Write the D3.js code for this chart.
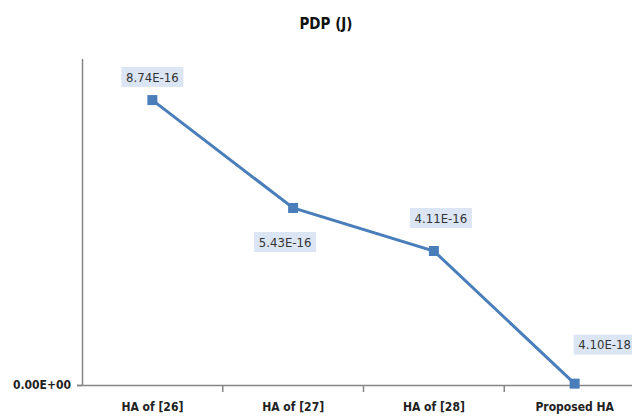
<!DOCTYPE html>
<html lang="en">
<head>
<meta charset="UTF-8">
<title>PDP (J)</title>
<script src="https://cdn.jsdelivr.net/npm/d3@7"></script>
<style>
    body{ margin:0; background:#fff; }
    .axis path, .axis line{ stroke:#868686; stroke-width:1.5px; }
    .axis text{ font-family:"Liberation Sans Narrow","DejaVu Sans Condensed",sans-serif; font-weight:bold; font-size:12px; fill:#222; }
    .title{ font-family:"Liberation Sans Narrow","DejaVu Sans Condensed",sans-serif; font-weight:bold; font-size:15px; fill:#111; }
    .lbl{ font-family:"Liberation Sans Narrow","DejaVu Sans Condensed",sans-serif; font-size:13px; fill:#333; }
    .lblbox{ fill:#dbe5f3; }
    .line{ fill:none; stroke:#4a7ebb; stroke-width:3px; }
    .marker{ fill:#4a7ebb; }
</style>
</head>
<body>
<svg id="svg"></svg>
<script>
var WIDTH = 632, HEIGHT = 419;

var categories = ["HA of [26]", "HA of [27]", "HA of [28]", "Proposed HA"];
var values = [8.74e-16, 5.43e-16, 4.11e-16, 4.10e-18];
var labels = ["8.74E-16", "5.43E-16", "4.11E-16", "4.10E-18"];
var yTicks = [0];
var yTickLabels = ["0.00E+00"];
// label offset from each point (dx, dy)
var labelOffsets = [[0, -23], [-8, 34], [7, -33], [30, -39]];

var svg = d3.select("#svg").attr("width", WIDTH).attr("height", HEIGHT);

var xScale = d3.scaleBand().domain(categories).range([82, 645]);
var yScale = d3.scaleLinear().domain([0, 1e-15]).range([385, 59]);

svg.append("text")
   .attr("class", "title")
   .attr("x", 326).attr("y", 29)
   .attr("text-anchor", "middle")
   .text("PDP (J)");

var xAxis = d3.axisBottom(xScale).tickSize(0).tickPadding(17);
var gx = svg.append("g")
   .attr("class", "x axis")
   .attr("transform", "translate(0," + yScale(0) + ")")
   .call(xAxis);
gx.select(".domain").attr("d", "M77,0.5H" + WIDTH);

// tick marks between categories
gx.selectAll(".sep")
  .data(categories.slice(1))
  .enter().append("line")
  .attr("class", "sep")
  .attr("x1", function(d){ return xScale(d); })
  .attr("x2", function(d){ return xScale(d); })
  .attr("y1", 0).attr("y2", 7);

var yAxis = d3.axisLeft(yScale)
   .tickValues(yTicks)
   .tickSize(5)
   .tickPadding(6)
   .tickFormat(function(d, i){ return yTickLabels[i]; });
var gy = svg.append("g")
   .attr("class", "y axis")
   .attr("transform", "translate(82,0)")
   .call(yAxis);
gy.select(".domain").attr("d", "M0.5," + yScale(1e-15) + "V" + yScale(0));

var cx = function(i){ return xScale(categories[i]) + xScale.bandwidth() / 2; };

var line = d3.line()
   .x(function(d, i){ return cx(i); })
   .y(function(d){ return yScale(d); });

svg.append("path")
   .datum(values)
   .attr("class", "line")
   .attr("d", line);

svg.selectAll(".marker")
   .data(values)
   .enter().append("rect")
   .attr("class", "marker")
   .attr("x", function(d, i){ return cx(i) - 5; })
   .attr("y", function(d){ return yScale(d) - 5; })
   .attr("width", 10).attr("height", 10);

var lg = svg.selectAll(".dl")
   .data(values)
   .enter().append("g")
   .attr("class", "dl")
   .attr("transform", function(d, i){
       return "translate(" + (cx(i) + labelOffsets[i][0]) + "," + (yScale(d) + labelOffsets[i][1]) + ")";
   });

lg.append("rect")
  .attr("class", "lblbox")
  .attr("x", -31).attr("y", -10)
  .attr("width", 62).attr("height", 20);

lg.append("text")
  .attr("class", "lbl")
  .attr("text-anchor", "middle")
  .attr("dy", "0.35em")
  .text(function(d, i){ return labels[i]; });
</script>
</body>
</html>
